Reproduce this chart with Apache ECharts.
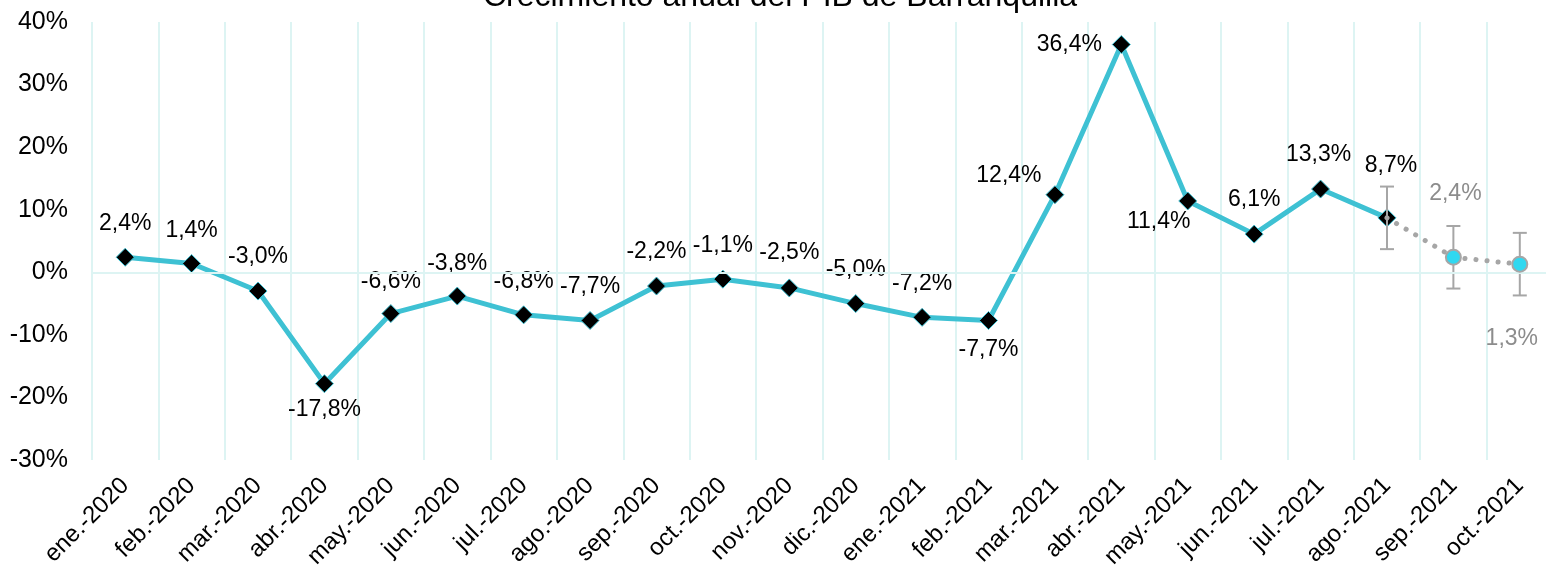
<!DOCTYPE html>
<html><head><meta charset="utf-8">
<script src="https://cdn.jsdelivr.net/npm/echarts@6/dist/echarts.min.js"></script>
<style>html,body{margin:0;padding:0;background:#fff;overflow:hidden}#c{width:1560px;height:580px}</style>
</head><body><div id="c"></div>
<script>
const categories = ['ene.-2020','feb.-2020','mar.-2020','abr.-2020','may.-2020','jun.-2020','jul.-2020','ago.-2020','sep.-2020','oct.-2020','nov.-2020','dic.-2020','ene.-2021','feb.-2021','mar.-2021','abr.-2021','may.-2021','jun.-2021','jul.-2021','ago.-2021','sep.-2021','oct.-2021'];
const observed = [2.4,1.4,-3.0,-17.8,-6.6,-3.8,-6.8,-7.7,-2.2,-1.1,-2.5,-5.0,-7.2,-7.7,12.4,36.4,11.4,6.1,13.3,8.7];
const forecast = [8.7,2.4,1.3]; // starting at ago.-2021
const forecastStart = 19;
const errLow = [3.7,-2.6,-3.7];
const errHigh = [13.7,7.4,6.3];
const yTicks = {min:-30,max:40,interval:10};

const labelOffsets = [[0,-34],[0,-33],[0,-34],[0,26],[0,-32],[0,-32],[0,-33],[0,-34],[0,-34],[0,-34],[0,-35],[0,-34],[0,-34],[0,29],[-46,-19],[-52,0],[-29,21],[0,-34],[-2,-34],[4,-52]];
const fcLabelOffsets = [null,[2,-64],[-8,75]];

const fmt = v => v.toFixed(1).replace('.',',') + '%';
const FONT = 'Liberation Sans, Arial, sans-serif';

const mainData = categories.map((c,i)=> i < observed.length ? {
  value: observed[i],
  label:{show:true,position:'inside',offset:labelOffsets[i],formatter:fmt(observed[i]),color:'#000',fontSize:23,fontFamily:FONT}
} : '-');

const fcData = categories.map((c,i)=>{
  const k = i - forecastStart;
  if (k < 0) return '-';
  if (k === 0) return {value:forecast[k],symbol:'none',label:{show:false}};
  return {value:forecast[k],label:{show:true,position:'inside',offset:fcLabelOffsets[k],formatter:fmt(forecast[k]),color:'#8c8c8c',fontSize:23,fontFamily:FONT}};
});

const errData = forecast.map((v,k)=>[forecastStart+k, errLow[k], errHigh[k]]);

const chart = echarts.init(document.getElementById('c'));
chart.setOption({
  animation:false,
  title:{text:'Crecimiento anual del PIB de Barranquilla',left:'center',top:-24,textStyle:{fontSize:32,fontWeight:'normal',color:'#000',fontFamily:FONT}},
  grid:{left:92,width:1461,top:22,height:438,containLabel:false},
  xAxis:{type:'category',data:categories,boundaryGap:true,
    axisLine:{show:false},axisTick:{show:false},
    axisLabel:{rotate:45,fontSize:24,color:'#000',fontFamily:FONT,margin:22,interval:0},
    splitLine:{show:true,interval:0,lineStyle:{color:'#ddf4f3',width:2}}},
  yAxis:{type:'value',min:yTicks.min,max:yTicks.max,interval:yTicks.interval,
    axisLine:{show:false},axisTick:{show:false},splitLine:{show:false},
    axisLabel:{formatter:'{value}%',fontSize:25,color:'#000',fontFamily:FONT,margin:24}},
  series:[
    {type:'line',data:[],z:1,silent:true,
     markLine:{silent:true,symbol:'none',label:{show:false},lineStyle:{color:'#ddf4f3',width:2,type:'solid'},data:[{yAxis:0}]}},
    {type:'line',data:mainData,z:3,symbol:'diamond',symbolSize:18,
     lineStyle:{color:'#3ec1d3',width:5},itemStyle:{color:'#000',borderColor:'#3ec1d3',borderWidth:1}},
    {type:'custom',z:4,data:errData,renderItem:(params,api)=>{
      const x = api.coord([api.value(0),api.value(1)]);
      const y = api.coord([api.value(0),api.value(2)]);
      const hw = 7;
      const st = {stroke:'#a6a6a6',lineWidth:2};
      return {type:'group',children:[
        {type:'line',shape:{x1:x[0],y1:x[1],x2:y[0],y2:y[1]},style:st},
        {type:'line',shape:{x1:x[0]-hw,y1:x[1],x2:x[0]+hw,y2:x[1]},style:st},
        {type:'line',shape:{x1:y[0]-hw,y1:y[1],x2:y[0]+hw,y2:y[1]},style:st}
      ]};
    }},
    {type:'line',data:fcData,z:5,symbol:'circle',symbolSize:15,
     lineStyle:{color:'#a6a6a6',width:5,type:[0.1,11],cap:'round'},
     itemStyle:{color:'#30d8f0',borderColor:'#a6a6a6',borderWidth:2}}
  ]
});
</script></body></html>
